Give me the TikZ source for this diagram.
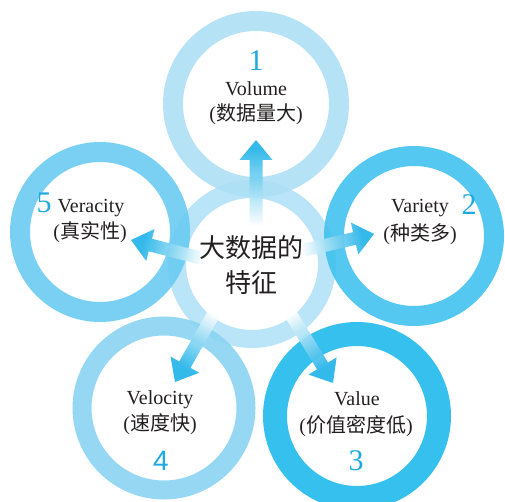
\documentclass[tikz,border=0pt]{standalone}
\usepackage{fontspec}
\setmainfont{Liberation Serif}
\newfontfamily\cjk{Noto Sans CJK SC}
\newfontfamily\numsans{Liberation Sans}
\usetikzlibrary{calc}
\definecolor{ringA}{HTML}{ACDEF5}
\definecolor{ringB}{HTML}{3CC0EE}
\definecolor{ringC}{HTML}{1AB7EB}
\definecolor{ringD}{HTML}{88D2F3}
\definecolor{ringE}{HTML}{68CAF1}
\definecolor{ringM}{HTML}{B0E0F6}
\definecolor{arrowblue}{HTML}{25B4E9}
\definecolor{numblue}{HTML}{1DA9E1}
\definecolor{txt}{HTML}{231F20}
\pgfdeclarehorizontalshading{arrowgrad}{100bp}{color(0bp)=(white); color(25bp)=(white); color(70bp)=(arrowblue); color(100bp)=(arrowblue)}
\newcommand\zh[1]{{\cjk #1}}
\newcommand\gradarrow[2]{%
  \coordinate (hb) at ($(#2)!20pt!(#1)$);
  \path let \p1=($(#2)-(#1)$), \n1={atan2(\y1,\x1)} in
    [shading=arrowgrad, shading angle=\n1, fill opacity=0.93]
    ($(#1)!6.5pt!90:(#2)$) -- ($(hb)!6.5pt!90:(#2)$) -- ($(hb)!16.5pt!90:(#2)$) -- (#2)
    -- ($(hb)!16.5pt!-90:(#2)$) -- ($(hb)!6.5pt!-90:(#2)$) -- ($(#1)!6.5pt!-90:(#2)$) -- cycle;
}
\begin{document}
\begin{tikzpicture}[x=1pt,y=-1pt,
  ring/.style={circle, inner sep=0pt, draw opacity=0.88},
  lab/.style={anchor=base, inner sep=0pt, text=txt, font=\fontsize{20}{22}\selectfont},
  num/.style={anchor=base, inner sep=0pt, text=numblue, font=\fontsize{30}{32}\selectfont},
  mid/.style={anchor=base, inner sep=0pt, text=txt, font=\cjk\fontsize{26}{30}\selectfont}]
\useasboundingbox (0,0) rectangle (505,502);
% rings
\node[ring, draw=ringM, line width=18pt, minimum size=150pt] (cm) at (252,264) {};
\node[ring, draw=ringA, line width=20pt, minimum size=166pt] (c1) at (256,104) {};
\node[ring, draw=ringE, line width=20pt, minimum size=160pt] (c5) at (100,232) {};
\node[ring, draw=ringB, line width=20pt, minimum size=160pt] (c2) at (414,236) {};
\node[ring, draw=ringD, line width=19pt, minimum size=164pt] (c4) at (164,408) {};
\node[ring, draw=ringC, line width=24pt, minimum size=164pt] (c3) at (357,416) {};
% arrow ends
\coordinate (s1) at (256,226); \coordinate (t1) at (256,140);
\coordinate (s2) at (296,252); \coordinate (t2) at (374,234);
\coordinate (s5) at (208,260); \coordinate (t5) at (131,240);
\coordinate (s4) at (217,308); \coordinate (t4) at (175,382);
\coordinate (s3) at (287,308); \coordinate (t3) at (333,383);
\gradarrow{s1}{t1}
\gradarrow{s2}{t2}
\gradarrow{s5}{t5}
\gradarrow{s4}{t4}
\gradarrow{s3}{t3}
% centre text
\node[mid] (m1) at (251,258) {大数据的};
\node[mid] (m2) at (251,292) {特征};
% labels
\node[num] (n1) at (256,71) {1};
\node[lab] (l1) at (256,96) {Volume};
\node[lab] (l1b) at (256,121) {(\zh{数据量大})};
\node[num] (n5) at (44,213) {5};
\node[lab] (l5) at (91,213) {Veracity};
\node[lab] (l5b) at (90,239) {(\zh{真实性})};
\node[lab] (l2) at (420,213) {Variety};
\node[num] (n2) at (469,215) {2};
\node[lab] (l2b) at (420,241) {(\zh{种类多})};
\node[lab] (l4) at (160,404) {Velocity};
\node[lab] (l4b) at (160,430) {(\zh{速度快})};
\node[num, font=\numsans\fontsize{28}{30}\selectfont] (n4) at (161,470) {4};
\node[lab] (l3) at (357,405) {Value};
\node[lab] (l3b) at (356,432) {(\zh{价值密度低})};
\node[num] (n3) at (356,470) {3};
\end{tikzpicture}
\end{document}
